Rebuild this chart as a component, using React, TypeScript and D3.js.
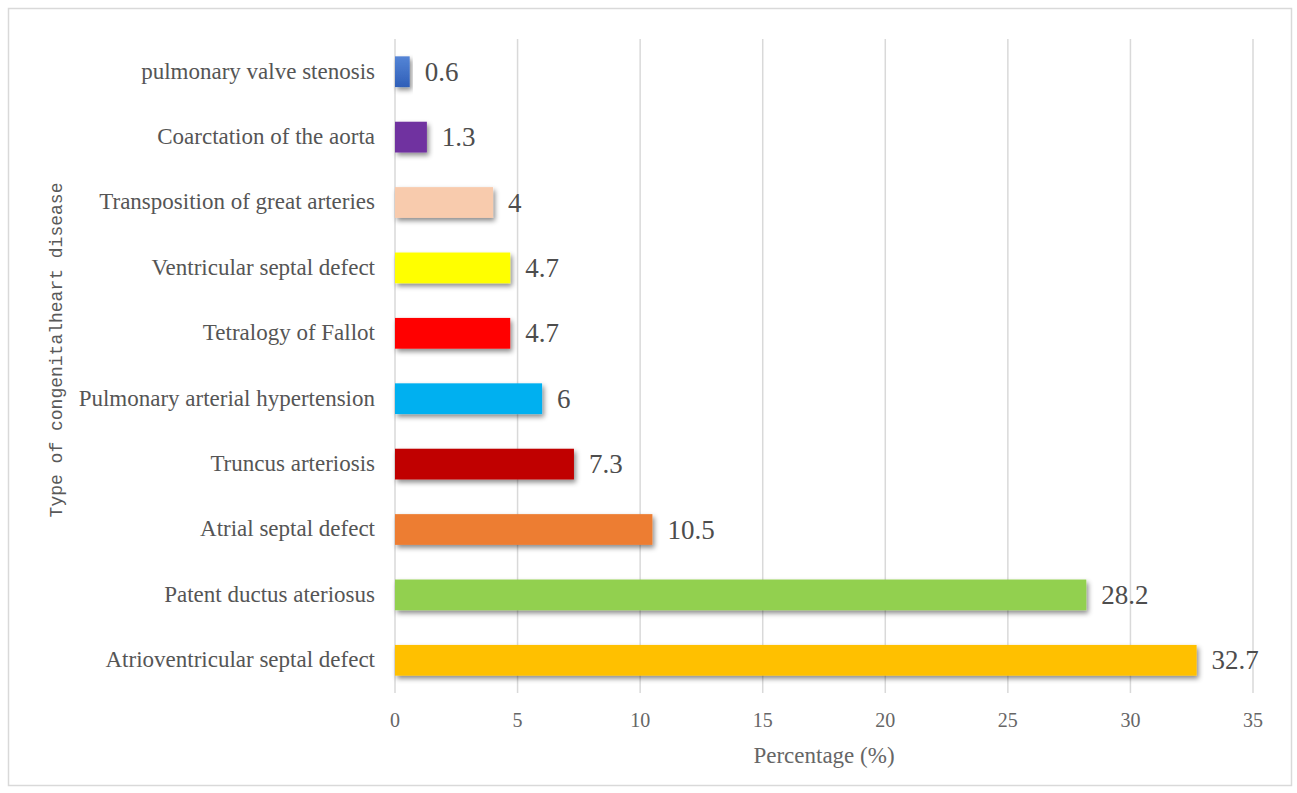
import React from "react";
import * as d3 from "d3";

const categories = [
  "pulmonary valve stenosis",
  "Coarctation of the aorta",
  "Transposition of great arteries",
  "Ventricular septal defect",
  "Tetralogy of Fallot",
  "Pulmonary arterial hypertension",
  "Truncus arteriosis",
  "Atrial septal defect",
  "Patent ductus ateriosus",
  "Atrioventricular septal defect",
];
const values = [0.6, 1.3, 4, 4.7, 4.7, 6, 7.3, 10.5, 28.2, 32.7];
const colors = [
  "#4472C4", "#7030A0", "#F8CBAD", "#FFFF00", "#FF0000",
  "#00B0F0", "#C00000", "#ED7D31", "#92D050", "#FFC000",
];
const xTicks = [0, 5, 10, 15, 20, 25, 30, 35];
const xTitle = "Percentage (%)";
const yTitle = "Type of congenitalheart disease";

const W = 1297, H = 793;
const plot = { left: 395, right: 1253, top: 39, bottom: 693 };
const FONT = "'Liberation Serif', 'DejaVu Serif', serif";

export default function App() {
  const x = d3.scaleLinear().domain([0, 35]).range([plot.left, plot.right]);
  const y = d3.scaleBand<string>().domain(categories).range([plot.top, plot.bottom]).paddingInner(0.53).paddingOuter(0.265);
  return (
    <svg width={W} height={H} style={{ position: "absolute", left: 0, top: 0, background: "#fff" }}>
      <defs>
        <filter id="sh" x="-10%" y="-30%" width="130%" height="190%">
          <feDropShadow dx="2" dy="3" stdDeviation="2.5" floodColor="#000" floodOpacity="0.45" />
        </filter>
        <linearGradient id="blueg" x1="0" y1="0" x2="0" y2="1">
          <stop offset="0" stopColor="#5585d6" />
          <stop offset="1" stopColor="#2f5fb8" />
        </linearGradient>
      </defs>
      <rect x={8.5} y={8.5} width={1283} height={777} fill="#fff" stroke="#d9d9d9" strokeWidth={1.5} />
      {xTicks.map((t) => (
        <g key={t}>
          <line x1={x(t)} x2={x(t)} y1={plot.top} y2={plot.bottom} stroke="#d9d9d9" strokeWidth={1.5} />
          <text x={x(t)} y={727} textAnchor="middle" fontFamily={FONT} fontSize={20} fill="#666666">{t}</text>
        </g>
      ))}
      {categories.map((c, i) => {
        const y0 = y(c)!;
        const bw = y.bandwidth();
        return (
          <g key={c}>
            <text x={375} y={y0 + bw / 2} dy="0.3em" textAnchor="end" fontFamily={FONT} fontSize={23} fill="#555555">{c}</text>
            <rect x={x(0)} y={y0} width={x(values[i]) - x(0)} height={bw} fill={i === 0 ? "url(#blueg)" : colors[i]} filter="url(#sh)" />
            <text x={x(values[i]) + 15} y={y0 + bw / 2} dy="0.34em" fontFamily={FONT} fontSize={27} fill="#4d4d4d">{values[i]}</text>
          </g>
        );
      })}
      <text x={824} y={763} textAnchor="middle" fontFamily={FONT} fontSize={23} fill="#666666">{xTitle}</text>
      <text transform={`translate(62,350) rotate(-90)`} textAnchor="middle" fontFamily="'Liberation Mono', 'DejaVu Sans Mono', monospace" fontSize={18} fill="#595959">{yTitle}</text>
    </svg>
  );
}
